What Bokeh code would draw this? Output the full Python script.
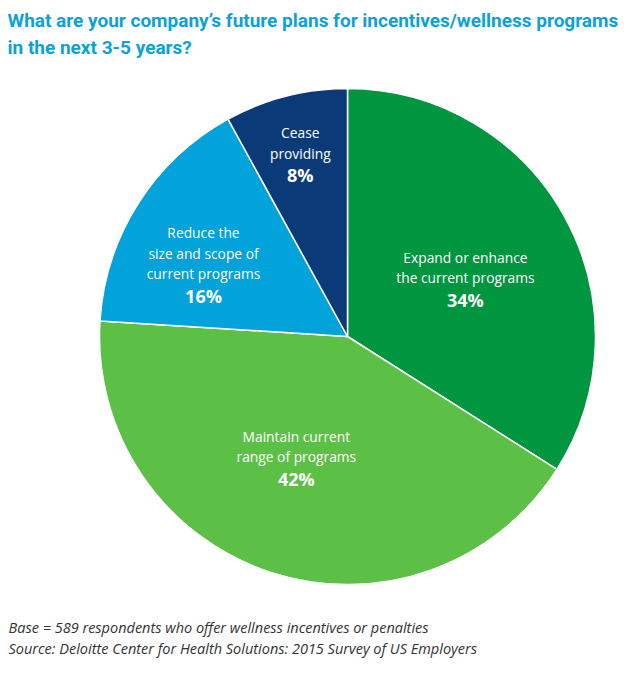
import math
from bokeh.plotting import figure
from bokeh.models import Range1d, ColumnDataSource, Label
from bokeh.embed import file_html
from bokeh.resources import INLINE
from bokeh.core.properties import value

# ---- data ----
categories = [
    ["Expand or enhance", "the current programs"],
    ["Maintain current", "range of programs"],
    ["Reduce the", "size and scope of", "current programs"],
    ["Cease", "providing"],
]
shares = [34, 42, 16, 8]
slice_colors = ["#00953F", "#5CBF46", "#02A2DA", "#0A3B78"]

title_lines = [
    "What are your company\u2019s future plans for incentives/wellness programs",
    "in the next 3-5 years?",
]
footer_lines = [
    "Base = 589 respondents who offer wellness incentives or penalties",
    "Source: Deloitte Center for Health Solutions: 2015 Survey of US Employers",
]

# ---- layout (not data) ----
W, H = 625, 661
CX, CY, R = 347, 325, 248
label_angle = [63.8, 202.9, 296.7, 345.5]   # degrees clockwise from top
label_rfrac = [0.53, 0.53, 0.65, 0.76]
LINE_SP = 20.5
PCT_SP = 22

p = figure(width=W, height=H, x_range=Range1d(0, W), y_range=Range1d(0, H),
           output_backend="svg", toolbar_location=None, min_border=0,
           x_axis_location=None, y_axis_location=None)
p.grid.visible = False
p.outline_line_color = None
p.background_fill_color = "white"
p.border_fill_color = "white"

total = sum(shares)
starts, ends = [], []
cum = 0
for s in shares:
    starts.append(math.pi / 2 - 2 * math.pi * cum / total)
    cum += s
    ends.append(math.pi / 2 - 2 * math.pi * cum / total)

src = ColumnDataSource(dict(start=starts, end=ends, color=slice_colors))
p.wedge(x=CX, y=CY, radius=R, start_angle="start", end_angle="end",
        direction="clock", fill_color="color", line_color="white",
        line_width=1.5, source=src)

cat_x, cat_y, cat_t = [], [], []
pct_x, pct_y, pct_t = [], [], []
for lines, s, a, f in zip(categories, shares, label_angle, label_rfrac):
    th = math.radians(a)
    ax = CX + R * f * math.sin(th)
    ay = CY + R * f * math.cos(th)
    n = len(lines)
    block = (n - 1) * LINE_SP + PCT_SP
    y0 = ay + block / 2
    for i, ln in enumerate(lines):
        cat_x.append(ax)
        cat_y.append(y0 - i * LINE_SP)
        cat_t.append(ln)
    pct_x.append(ax)
    pct_y.append(y0 - (n - 1) * LINE_SP - PCT_SP)
    pct_t.append(f"{s}%")

p.text(x=cat_x, y=cat_y, text=cat_t, text_align="center", text_baseline="middle",
       text_color="white", text_font=value("Open Sans"), text_font_size="13.8px")
p.text(x=pct_x, y=pct_y, text=pct_t, text_align="center", text_baseline="middle",
       text_color="white", text_font=value("Open Sans"), text_font_style="bold",
       text_font_size="18px")

for i, t in enumerate(title_lines):
    p.add_layout(Label(x=7, y=641 - i * 27, x_units="screen", y_units="screen",
                       text=t, text_align="left", text_baseline="middle",
                       text_color="#0AA2D8", text_font="Roboto",
                       text_font_style="bold", text_font_size="19px"))

for i, t in enumerate(footer_lines):
    p.add_layout(Label(x=8, y=34 - i * 21, x_units="screen", y_units="screen",
                       text=t, text_align="left", text_baseline="middle",
                       text_color="#333333", text_font="Open Sans",
                       text_font_style="italic", text_font_size="14.5px"))

open("out.html", "w").write(file_html(p, INLINE))
